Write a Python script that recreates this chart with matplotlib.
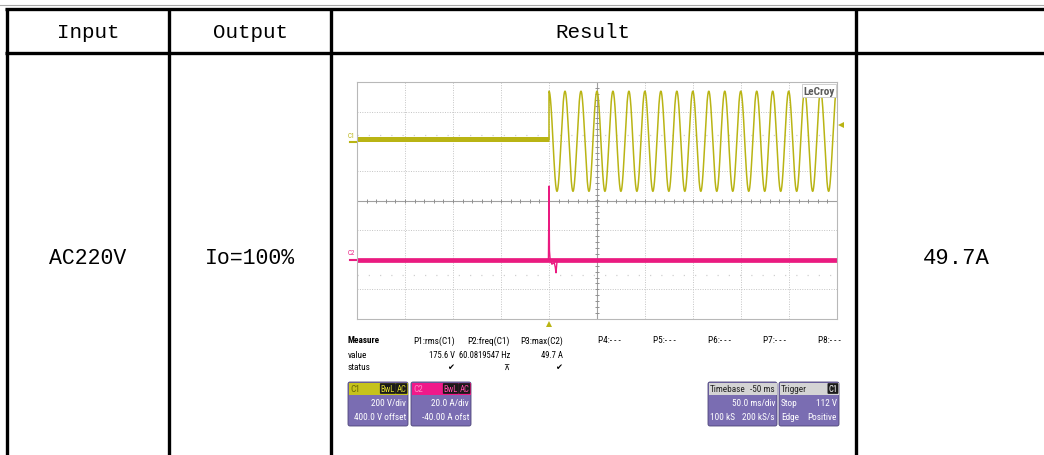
import numpy as np
import matplotlib
matplotlib.use('Agg')
import matplotlib.pyplot as plt
from matplotlib import font_manager
from matplotlib.patches import FancyBboxPatch, Rectangle

# table contents
headers = ['Input', 'Output', 'Result']
row_input = 'AC220V'
row_output = 'Io=100%'
row_result = '49.7A'

# scope settings
time_div_ms = 50
trig_pos_ms = -200          # left edge of the screen, trigger at 0
volts_div = 200
c1_offset_v = 400
c1_base_v = 12
c1_freq_hz = 60.08
c1_peak_v = 338
amps_div = 20
c2_offset_a = -40
trig_level_v = 112

# C2 current transient (ms, A)
c2_t = [-200, -0.6, 0.0, 0.5, 1.2, 3.0, 5.5, 6.5, 7.3, 8.5, 300]
c2_i = [0, 0, 49.7, 6.0, 0, -3.0, -2.0, -5.0, -8.8, 0, 0]

meas_names = ['P1:rms(C1)', 'P2:freq(C1)', 'P3:max(C2)']
meas_values = ['175.6 V', '60.0819547 Hz', '49.7 A']
meas_status = ['\u2714', '\u22bc', '\u2714']
meas_empty = ['P4:- - -', 'P5:- - -', 'P6:- - -', 'P7:- - -', 'P8:- - -']

YEL = '#b9b414'
PINK = '#ea1a80'
PURP = '#7a6db2'
MONO = ['Liberation Mono', 'DejaVu Sans Mono']

# pick a narrow font for the scope texts, shrink if only a wide one exists
installed = {f.name for f in font_manager.fontManager.ttflist}
NARROW, SC = ['DejaVu Sans'], 0.72
for name, k in [('Liberation Sans Narrow', 1.0), ('DejaVu Sans Condensed', 0.8),
                ('Roboto Condensed', 0.95), ('Liberation Sans', 0.82), ('Arial', 0.82)]:
    if name in installed:
        NARROW, SC = [name, 'DejaVu Sans'], k
        break


def fs(x):
    return x * SC


fig = plt.figure(figsize=(10.44, 4.56), dpi=100)
ax = fig.add_axes([0, 0, 1, 1])
ax.set_xlim(0, 1044)
ax.set_ylim(456, 0)
ax.axis('off')

# table grid
ax.plot([0, 1044], [5.5, 5.5], color='#a8a8a8', lw=0.8)
ax.plot([5, 1044], [9.5, 9.5], color='black', lw=2.4, solid_capstyle='butt')
ax.plot([5, 1044], [53.5, 53.5], color='black', lw=2.4, solid_capstyle='butt')
for xv in [6.5, 169, 330.5, 856]:
    ax.plot([xv, xv], [8.5, 456], color='black', lw=2.4, solid_capstyle='butt')

for xc, h in zip([88, 250, 593], headers):
    ax.text(xc, 32, h, ha='center', va='center', fontsize=15, family=MONO)
ax.text(88, 259, row_input, ha='center', va='center', fontsize=15.5, family=MONO)
ax.text(250, 259, row_output, ha='center', va='center', fontsize=15.5, family=MONO)
ax.text(956, 259, row_result, ha='center', va='center', fontsize=16, family=MONO)

# scope screen
sx0, sx1, sy0, sy1 = 357, 837, 83, 320
sc = fig.add_axes([sx0 / 1044, 1 - sy1 / 456, (sx1 - sx0) / 1044, (sy1 - sy0) / 456])
sc.set_xlim(trig_pos_ms, trig_pos_ms + 10 * time_div_ms)
sc.set_ylim(-4, 4)
sc.set_xticks([])
sc.set_yticks([])
for s in sc.spines.values():
    s.set_color('#b8b8b8')
    s.set_linewidth(0.8)

xmid = trig_pos_ms + 5 * time_div_ms
for k in range(1, 10):
    xv = trig_pos_ms + k * time_div_ms
    if xv != xmid:
        sc.axvline(xv, color='#c4c4c4', lw=0.7, ls=(0, (1, 1.5)))
for yv in [-3, -2, -1, 1, 2, 3]:
    sc.axhline(yv, color='#c4c4c4', lw=0.7, ls=(0, (1, 1.5)))
for yv in [2.2, -2.5]:
    sc.axhline(yv, color='#d0d0d0', lw=0.9, ls=(0, (1, 8)))
sc.axhline(0, color='#a0a0a0', lw=0.8)
sc.axvline(xmid, color='#a0a0a0', lw=0.8)
tks = np.arange(trig_pos_ms, trig_pos_ms + 10 * time_div_ms, time_div_ms / 5)
sc.plot(tks, np.zeros_like(tks), '|', color='#909090', ms=3, mew=0.7)
yts = np.arange(-4, 4.01, 0.2)
sc.plot(np.full_like(yts, xmid), yts, '_', color='#909090', ms=3, mew=0.7)

# C1 voltage
sc.plot([trig_pos_ms, 0], [(c1_base_v + c1_offset_v) / volts_div] * 2,
        color=YEL, lw=3.6, solid_capstyle='butt')
t_post = np.linspace(0, trig_pos_ms + 10 * time_div_ms, 4000)
v_post = c1_peak_v * np.cos(2 * np.pi * c1_freq_hz * t_post / 1000)
sc.plot(np.r_[0, t_post], (np.r_[c1_base_v, v_post] + c1_offset_v) / volts_div,
        color=YEL, lw=1.1)

# C2 current
sc.plot([trig_pos_ms, trig_pos_ms + 10 * time_div_ms],
        [c2_offset_a / amps_div] * 2, color=PINK, lw=3.4, solid_capstyle='butt')
sc.plot(c2_t, (np.array(c2_i) + c2_offset_a) / amps_div, color=PINK, lw=1.0)

# LeCroy logo
sc.text(0.995, 0.985, 'LeCroy', transform=sc.transAxes, ha='right', va='top',
        fontsize=fs(8.5), family=NARROW, color='#5a5a5a', fontweight='bold',
        bbox=dict(boxstyle='square,pad=0.15', fc='white', ec='#c8c8c8', lw=0.6))

# markers around the screen
px_div = (sy1 - sy0) / 8
ymid = (sy0 + sy1) / 2
c1_y = ymid - c1_offset_v / volts_div * px_div
c2_y = ymid - c2_offset_a / amps_div * px_div
ax.plot([350, 357], [c1_y + 1, c1_y + 1], color=YEL, lw=1.5)
ax.text(351, c1_y - 6, 'C1', color=YEL, fontsize=5, family=NARROW, ha='center', va='center')
ax.plot([350, 357], [c2_y, c2_y], color=PINK, lw=1.5)
ax.text(351, c2_y - 7, 'C2', color=PINK, fontsize=5, family=NARROW, ha='center', va='center')
ax.plot([841], [ymid - (trig_level_v + c1_offset_v) / volts_div * px_div],
        marker='<', color=YEL, ms=4, mew=0)
trig_x = sx0 + (0 - trig_pos_ms) / (10 * time_div_ms) * (sx1 - sx0)
ax.plot([trig_x], [325], marker='^', color=YEL, ms=4, mew=0)

# measure table
ax.text(348, 341, 'Measure', fontsize=fs(7), family=NARROW, fontweight='bold', va='center')
ax.text(348, 356, 'value', fontsize=fs(7), family=NARROW, va='center')
ax.text(348, 368, 'status', fontsize=fs(7), family=NARROW, va='center')
for xr, nm, vl, st in zip([455, 510, 563], meas_names, meas_values, meas_status):
    ax.text(xr, 341, nm, fontsize=fs(7), family=NARROW, ha='right', va='center')
    ax.text(xr, 356, vl, fontsize=fs(6.5), family=NARROW, ha='right', va='center')
    ax.text(xr - 4, 368, st, fontsize=6, family=['DejaVu Sans'], ha='center', va='center')
for xl, nm in zip([598, 653, 708, 763, 818], meas_empty):
    ax.text(xl, 341, nm, fontsize=fs(7), family=NARROW, va='center')


def ch_box(x0, x1, head_col, head_txt, head_tcol, badges, badge_col, lines, head_right=''):
    y0, y1, yh = 383, 427, 395
    ax.add_patch(FancyBboxPatch((x0, y0), x1 - x0, y1 - y0,
                                boxstyle='round,pad=0,rounding_size=2',
                                fc=PURP, ec='#4c4478', lw=0.6))
    ax.add_patch(Rectangle((x0 + 0.5, y0 + 0.5), x1 - x0 - 1, yh - y0, fc=head_col, ec='none'))
    yc = (y0 + yh) / 2 + 0.5
    ax.text(x0 + 2, yc, head_txt, color=head_tcol, fontsize=fs(7), family=NARROW, va='center')
    if head_right:
        ax.text(x1 - 2, yc, head_right, color=head_tcol, fontsize=fs(7), family=NARROW,
                ha='right', va='center')
    for b, xr in zip(badges[::-1], [x1 - 1.5, x1 - 13]):
        ax.text(xr, yc, b, color=badge_col, fontsize=fs(6.5), family=NARROW,
                ha='right', va='center',
                bbox=dict(boxstyle='round,pad=0.1', fc='#1a1a1a', ec='none'))
    for (lt, rt), yy in zip(lines, [404, 418]):
        if lt:
            ax.text(x0 + 2, yy, lt, color='white', fontsize=fs(7), family=NARROW, va='center')
        ax.text(x1 - 2, yy, rt, color='white', fontsize=fs(7), family=NARROW,
                ha='right', va='center')


ch_box(348, 408, '#c6c21c', 'C1', '#6a6600', ['BwL', 'AC'], '#d8d430',
       [('', '200 V/div'), ('', '400.0 V offset')])
ch_box(411, 471, '#f0198a', 'C2', '#ff8ac6', ['BwL', 'AC'], '#ff4aa8',
       [('', '20.0 A/div'), ('', '-40.00 A ofst')])
ch_box(708, 777, '#d4d4d4', 'Timebase', '#222222', [], 'white',
       [('', '50.0 ms/div'), ('100 kS', '200 kS/s')], head_right='-50 ms')
ch_box(779, 839, '#d4d4d4', 'Trigger', '#222222', ['C1'], 'white',
       [('Stop', '112 V'), ('Edge', 'Positive')])

fig.savefig('out.png', dpi=100, facecolor='white')
